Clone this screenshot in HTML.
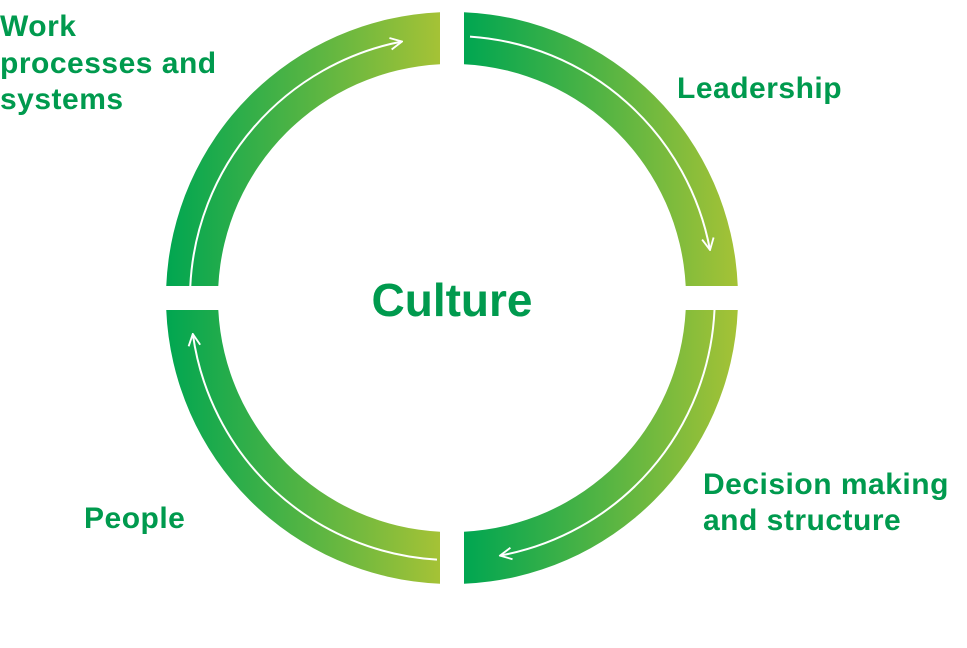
<!DOCTYPE html>
<html><head><style>
html,body{margin:0;padding:0;background:#fff;}
svg{display:block;}
text{font-family:"Liberation Sans",sans-serif;font-weight:bold;fill:#009a4e;}
.l{font-size:30px;letter-spacing:0.5px;}
</style></head><body>
<svg width="967" height="648" viewBox="0 0 967 648" xmlns="http://www.w3.org/2000/svg">
<defs>
<linearGradient id="gL" gradientUnits="userSpaceOnUse" x1="166" y1="0" x2="440" y2="0">
<stop offset="0" stop-color="#00a651"/><stop offset="1" stop-color="#a5c236"/></linearGradient>
<linearGradient id="gR" gradientUnits="userSpaceOnUse" x1="464" y1="0" x2="738" y2="0">
<stop offset="0" stop-color="#00a651"/><stop offset="1" stop-color="#a5c236"/></linearGradient>
<marker id="ah" viewBox="0 0 12 12" refX="11" refY="6" markerWidth="14" markerHeight="14" markerUnits="userSpaceOnUse" orient="auto">
<path d="M1,1 L11,6 L1,11" fill="none" stroke="#fff" stroke-width="1.6"/></marker>
</defs>
<path d="M166.25,286 A286,286 0 0 1 440,12.25 L440,64.3 A234,234 0 0 0 218.3,286 Z" fill="url(#gL)"/>
<path d="M464,12.25 A286,286 0 0 1 737.75,286 L685.7,286 A234,234 0 0 0 464,64.3 Z" fill="url(#gR)"/>
<path d="M737.75,310 A286,286 0 0 1 464,583.75 L464,531.7 A234,234 0 0 0 685.7,310 Z" fill="url(#gR)"/>
<path d="M440,583.75 A286,286 0 0 1 166.25,310 L218.3,310 A234,234 0 0 0 440,531.7 Z" fill="url(#gL)"/>
<g fill="none" stroke="#fff" stroke-width="2">
<path d="M190.3,286 A262,262 0 0 1 402,41.5" marker-end="url(#ah)"/>
<path d="M470,36.6 A262,262 0 0 1 710,250" marker-end="url(#ah)"/>
<path d="M714.5,310 A262,262 0 0 1 500,555.6" marker-end="url(#ah)"/>
<path d="M437,559.6 A262,262 0 0 1 192.8,334" marker-end="url(#ah)"/>
</g>
<text class="l" x="0" y="36">Work</text>
<text class="l" x="0" y="73">processes and</text>
<text class="l" x="0" y="109">systems</text>
<text class="l" x="677" y="98">Leadership</text>
<text class="l" x="703" y="494">Decision making</text>
<text class="l" x="703" y="530">and structure</text>
<text class="l" x="84" y="528">People</text>
<text x="452" y="316" font-size="46" text-anchor="middle">Culture</text>
</svg>
</body></html>
